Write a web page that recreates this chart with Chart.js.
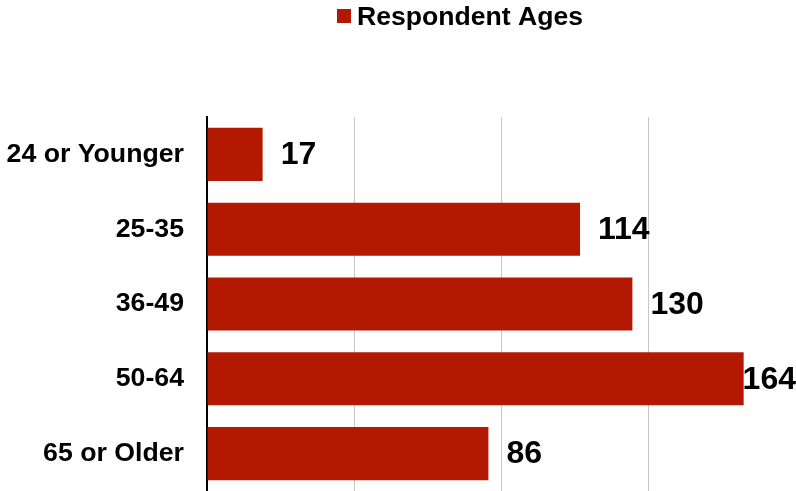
<!DOCTYPE html>
<html>
<head>
<meta charset="utf-8">
<script src="https://cdn.jsdelivr.net/npm/chart.js@4/dist/chart.umd.min.js"></script>
<style>
html,body{margin:0;padding:0;background:#fff;}
#wrap{position:relative;width:796px;height:491px;}
</style>
</head>
<body>
<div id="wrap"><canvas id="c" width="796" height="491"></canvas></div>
<script>
const categories = ["24 or Younger", "25-35", "36-49", "50-64", "65 or Older"];
const seriesName = "Respondent Ages";
const values = [17, 114, 130, 164, 86];
const xTicks = [0, 45, 90, 135, 180];

const BAR = "#B31800";
const FONT = "'Liberation Sans', Arial, sans-serif";

const legendPlugin = {
  id: 'customLegend',
  afterDraw(chart) {
    const ctx = chart.ctx;
    ctx.save();
    ctx.fillStyle = BAR;
    ctx.fillRect(337, 9, 14, 14);
    ctx.fillStyle = "#000";
    ctx.font = "bold 26.6px " + FONT;
    ctx.textAlign = "left";
    ctx.textBaseline = "alphabetic";
    ctx.fillText(seriesName, 357, 25);
    ctx.restore();
  }
};

const labelPlugin = {
  id: 'valueLabels',
  afterDatasetsDraw(chart) {
    const ctx = chart.ctx;
    const meta = chart.getDatasetMeta(0);
    const area = chart.chartArea;
    ctx.save();
    ctx.font = "bold 32px " + FONT;
    ctx.fillStyle = "#000";
    ctx.textAlign = "left";
    ctx.textBaseline = "middle";
    meta.data.forEach((bar, i) => {
      const txt = String(values[i]);
      const w = ctx.measureText(txt).width;
      let x = bar.x + 18;
      if (x + w > area.right) x = area.right - w;
      ctx.fillText(txt, x, bar.y + 1);
    });
    ctx.restore();
  }
};

new Chart(document.getElementById('c'), {
  type: 'bar',
  data: {
    labels: categories,
    datasets: [{
      label: seriesName,
      data: values,
      backgroundColor: BAR,
      borderWidth: 0,
      categoryPercentage: 1,
      barPercentage: 0.71
    }]
  },
  options: {
    indexAxis: 'y',
    responsive: false,
    animation: false,
    layout: { padding: { top: 117, left: 0, right: 0, bottom: 0 } },
    plugins: {
      legend: { display: false },
      tooltip: { enabled: false }
    },
    scales: {
      x: {
        min: xTicks[0],
        max: xTicks[xTicks.length - 1],
        afterBuildTicks(s) { s.ticks = xTicks.map(v => ({ value: v })); },
        ticks: { display: false },
        grid: { color: "#C8C8C8", lineWidth: 1, drawTicks: false },
        border: { display: false },
        afterFit(s) { s.height = 0; s.paddingLeft = 0; s.paddingRight = 0; }
      },
      y: {
        grid: { display: false, drawTicks: false },
        border: { display: true, color: "#000", width: 2 },
        ticks: {
          color: "#000",
          padding: 23,
          font: { family: FONT, size: 26.7, weight: 'bold' }
        },
        afterFit(s) { s.width = 207; s.paddingTop = 0; s.paddingBottom = 0; }
      }
    }
  },
  plugins: [legendPlugin, labelPlugin]
});
</script>
</body>
</html>
